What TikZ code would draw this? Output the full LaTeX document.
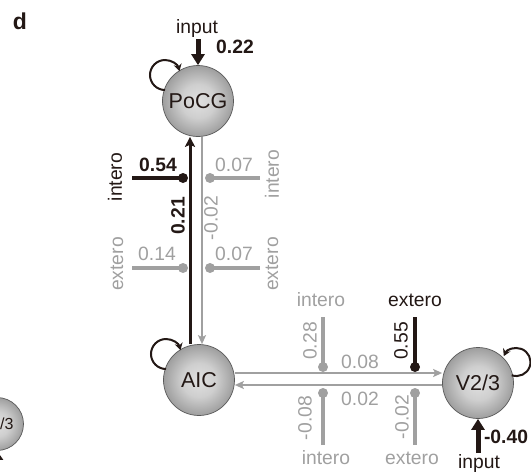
\documentclass[tikz,border=0pt]{standalone}
\usepackage{fontspec}
\setmainfont{Liberation Sans}
\usetikzlibrary{arrows.meta}
\definecolor{ink}{HTML}{231815}
\definecolor{gry}{HTML}{A0A0A0}
\pgfdeclareradialshading{myball}{\pgfpoint{0bp}{0bp}}{color(0bp)=(gray!24); color(12bp)=(gray!38); color(25bp)=(gray!76); color(50bp)=(gray!76)}
\begin{document}
\begin{tikzpicture}[x=1pt,y=-1pt,
  ball/.style={circle, minimum size=71pt, inner sep=0pt, draw=gray!70!black, line width=0.7pt, shading=myball, text=ink, font=\fontsize{21.5}{22}\selectfont},
  lab/.style={inner sep=0pt, font=\fontsize{19.3}{20}\selectfont},
  blab/.style={inner sep=0pt, font=\fontsize{19.3}{20}\selectfont\bfseries},
  bdot/.style={circle, fill=ink, minimum size=10pt, inner sep=0pt},
  gdot/.style={circle, fill=gry, minimum size=10pt, inner sep=0pt},
  bstub/.style={ink, line width=4.8pt},
  gstub/.style={gry, line width=4.8pt},
  barrow/.style={ink, line width=3pt, -{Stealth[length=10pt,width=10pt,inset=2pt]}},
  garrow/.style={gry, line width=2.5pt, -{Stealth[length=9pt,width=8pt,inset=2pt]}},
  inarrow/.style={ink, line width=5pt, -{Triangle[length=11pt,width=13pt]}},
  selfloop/.style={ink, line width=2pt, -{Stealth[length=7pt,width=8pt]}}
]
\clip (0,0) rectangle (531,475);

\node[font=\fontsize{23}{24}\selectfont\bfseries, text=ink, inner sep=0pt] (lbl) at (20,21) {d};

% balls
\node[ball] (PoCG) at (198,101) {PoCG};
\node[ball] (AIC) at (199,380) {AIC};
\node[ball] (V23) at (478,383) {V2/3};
\node[ball, minimum size=53pt, font=\fontsize{16}{17}\selectfont] (V23b) at (-3,424) {V2/3};

% self loops
\draw[selfloop] (PoCG) ++(-33,-11) arc[start angle=90, end angle=345, radius=15];
\draw[selfloop] (AIC) ++(-33,-11) arc[start angle=90, end angle=345, radius=15];
\draw[selfloop] (V23) ++(33.7,-7.8) arc[start angle=110, end angle=-155, radius=14];

% vertical connectors
\coordinate (bx) at (190,0);
\coordinate (gx) at (202,0);
\draw[barrow] (AIC.north -| bx) -- (PoCG.south -| bx);
\draw[garrow] (PoCG.south -| gx) -- (AIC.north -| gx);

% horizontal connectors
\coordinate (hy1) at (0,373);
\coordinate (hy2) at (0,385);
\draw[garrow] (AIC.east |- hy1) -- (V23.west |- hy1);
\draw[garrow] (V23.west |- hy2) -- (AIC.east |- hy2);

% inputs
\coordinate (in1) at (198,39);
\draw[inarrow] (in1) -- (PoCG.north);
\coordinate (in2) at (478,453);
\draw[inarrow] (in2) -- (V23.south);
\coordinate (in3) at (-3,472);
\draw[ink, line width=4pt, -{Triangle[length=9pt,width=12pt]}] (in3) -- (V23b.south);

% stubs on vertical pair
\coordinate (e1) at (132,178);
\node[bdot] (j1) at (183,178) {};
\draw[bstub] (e1) -- (j1.center);
\coordinate (e2) at (260,178);
\node[gdot] (j2) at (210,178) {};
\draw[gstub] (e2) -- (j2.center);
\coordinate (e3) at (132,268);
\node[gdot] (j3) at (183,268) {};
\draw[gstub] (e3) -- (j3.center);
\coordinate (e4) at (260,268);
\node[gdot] (j4) at (210,268) {};
\draw[gstub] (e4) -- (j4.center);

% stubs on horizontal pair
\coordinate (e5) at (323,317);
\node[gdot] (j5) at (323,367) {};
\draw[gstub] (e5) -- (j5.center);
\coordinate (e6) at (415,317);
\node[bdot] (j6) at (415,367) {};
\draw[bstub] (e6) -- (j6.center);
\coordinate (e7) at (323,445);
\node[gdot] (j7) at (323,393) {};
\draw[gstub] (e7) -- (j7.center);
\coordinate (e8) at (415,445);
\node[gdot] (j8) at (415,393) {};
\draw[gstub] (e8) -- (j8.center);

% labels vertical pair
\node[blab, text=ink] (l054) at (158,165) {0.54};
\node[lab, text=ink, rotate=90] (lint1) at (115,177) {intero};
\node[blab, text=ink, rotate=90] (l021) at (178,216) {0.21};
\node[lab, text=gry, rotate=90] (lm002a) at (211,218) {-0.02};
\node[lab, text=gry] (l007a) at (234,165) {0.07};
\node[lab, text=gry, rotate=90] (lint2) at (272,174) {intero};
\node[lab, text=gry] (l014) at (157,254) {0.14};
\node[lab, text=gry, rotate=90] (lext1) at (117,264) {extero};
\node[lab, text=gry] (l007b) at (234,254) {0.07};
\node[lab, text=gry, rotate=90] (lext2) at (272,264) {extero};

% labels horizontal pair
\node[lab, text=gry] (lint3) at (321,300) {intero};
\node[lab, text=ink] (lext3) at (415,300) {extero};
\node[lab, text=gry, rotate=90] (l028) at (310,341) {0.28};
\node[lab, text=ink, rotate=90] (l055) at (401,341) {0.55};
\node[lab, text=gry] (l008) at (360,362) {0.08};
\node[lab, text=gry] (l002) at (360,399) {0.02};
\node[lab, text=gry, rotate=90] (lm008) at (305,418) {-0.08};
\node[lab, text=gry, rotate=90] (lm002b) at (402,417) {-0.02};
\node[lab, text=gry] (lint4) at (326,458) {intero};
\node[lab, text=gry] (lext4) at (412,458) {extero};

% input labels
\node[lab, text=ink] (inp1) at (197,29) {input};
\node[blab, text=ink] (v022) at (235,47) {0.22};
\node[blab, text=ink] (v040) at (506,437) {-0.40};
\node[lab, text=ink] (inp2) at (479,464) {input};
\end{tikzpicture}
\end{document}
